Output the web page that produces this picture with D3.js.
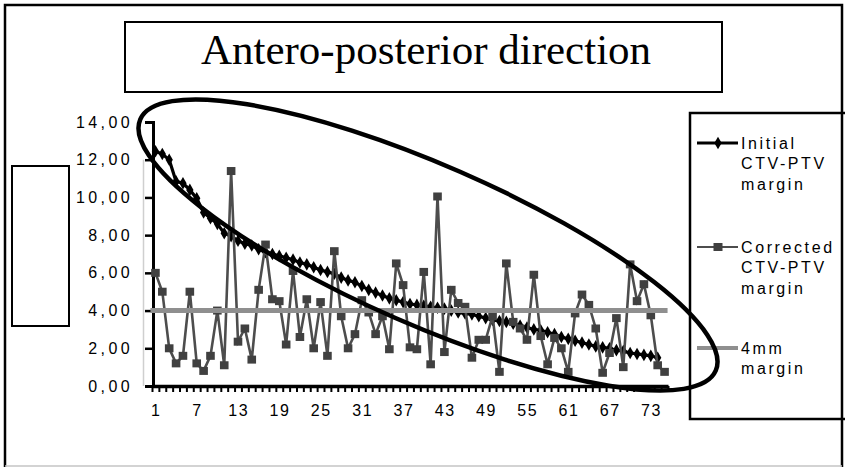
<!DOCTYPE html>
<html>
<head>
<meta charset="utf-8">
<script src="https://cdn.jsdelivr.net/npm/d3@7"></script>
<style>
  html, body { margin: 0; padding: 0; background: #fff; }
  svg { display: block; }
  text { font-family: "Liberation Sans", Arial, sans-serif; fill: #000; }
</style>
</head>
<body>
<svg id="chart" width="845" height="467"></svg>
<script>
// Patient index along the x axis
const categories = d3.range(1, 76).map(String);

// Initial CTV-PTV margin (mm), sorted descending
const initialMargin = [
  12.45, 12.3, 12.0, 10.85, 10.75, 10.4, 9.95, 9.2, 8.9, 8.6,
  8.1, 7.95, 7.7, 7.55, 7.45, 7.25, 7.1, 7.0, 6.9, 6.8,
  6.7, 6.55, 6.45, 6.3, 6.15, 6.05, 5.95, 5.75, 5.6, 5.5,
  5.3, 5.1, 4.95, 4.8, 4.65, 4.55, 4.45, 4.35, 4.3, 4.25,
  4.2, 4.15, 4.1, 4.0, 3.9, 3.85, 3.8, 3.7, 3.6, 3.5,
  3.45, 3.4, 3.3, 3.2, 3.1, 3.0, 2.95, 2.85, 2.75, 2.6,
  2.5, 2.4, 2.3, 2.2, 2.1, 2.05, 2.0, 1.9, 1.85, 1.75,
  1.7, 1.65, 1.6, 1.5
];

// Corrected CTV-PTV margin (mm)
const correctedMargin = [
  6.0, 5.0, 2.0, 1.2, 1.6, 5.0, 1.2, 0.8, 1.6, 4.0,
  1.1, 11.4, 2.35, 3.05, 1.4, 5.1, 7.5, 4.6, 4.5, 2.2,
  6.1, 2.6, 4.6, 2.0, 4.45, 1.6, 7.15, 3.7, 2.0, 2.75,
  4.55, 3.9, 2.75, 3.7, 1.95, 6.5, 5.35, 2.05, 1.95, 6.05,
  1.15, 10.05, 1.8, 5.1, 4.4, 4.2, 1.5, 2.45, 2.45, 3.7,
  0.75, 6.5, 3.4, 3.05, 2.45, 5.9, 2.65, 1.15, 2.55, 2.0,
  0.75, 3.85, 4.85, 4.3, 3.05, 0.7, 1.75, 3.6, 1.0, 6.45,
  4.5, 5.4, 3.75, 1.1, 0.75
];

// Fixed 4 mm reference margin
const fixedMargin = 4;

const xTickLabels = ["1", "7", "13", "19", "25", "31", "37", "43", "49", "55", "61", "67", "73"];
const yTicks = [0, 2, 4, 6, 8, 10, 12, 14];

const legendItems = [
  { key: "initial",   lines: ["Initial", "CTV-PTV", "margin"] },
  { key: "corrected", lines: ["Corrected", "CTV-PTV", "margin"] },
  { key: "fixed",     lines: ["4mm", "margin"] }
];

const svg = d3.select("#chart");

// outer frame
svg.append("rect").attr("x", 0).attr("y", 0).attr("width", 845).attr("height", 467).attr("fill", "#fff");
svg.append("path").attr("d", "M5,467 V5 H842 V467").attr("fill", "none").attr("stroke", "#000").attr("stroke-width", 2.5);
svg.append("line").attr("x1", 5).attr("x2", 842).attr("y1", 466).attr("y2", 466)
  .attr("stroke", "#c4c4c4").attr("stroke-width", 1.5);

// title box
svg.append("rect").attr("x", 125).attr("y", 22).attr("width", 597).attr("height", 70)
  .attr("fill", "#fff").attr("stroke", "#000").attr("stroke-width", 2);
svg.append("text").attr("x", 426).attr("y", 64).attr("text-anchor", "middle")
  .style("font-family", '"Liberation Serif", "Times New Roman", serif')
  .style("font-size", "43px")
  .text("Antero-posterior direction");

// empty y-title box
svg.append("rect").attr("x", 12).attr("y", 166).attr("width", 57).attr("height", 160)
  .attr("fill", "#fff").attr("stroke", "#000").attr("stroke-width", 2);

// scales
const plotL = 152, plotR = 668, plotT = 122, plotB = 386;
const x = d3.scaleBand().domain(categories).range([plotL, plotR]).padding(0);
const cx = d => x(d) + x.bandwidth() / 2;
const y = d3.scaleLinear().domain([0, 14]).range([plotB, plotT]);
const xEdge = d3.scaleLinear().domain([0, categories.length]).range([plotL, plotR]);

// faint plot-area edge
svg.append("line").attr("x1", 143.5).attr("x2", 143.5).attr("y1", y(12)).attr("y2", plotB)
  .attr("stroke", "#cfcfcf").attr("stroke-width", 1.5);

// y axis
const fmt = v => d3.format(".2f")(v).replace(".", ",");
const yAxis = svg.append("g").attr("transform", `translate(${plotL + 1},0)`)
  .call(d3.axisLeft(y).tickValues(yTicks).tickFormat(fmt).tickSize(8).tickPadding(12));
yAxis.select(".domain").attr("stroke", "#000").attr("stroke-width", 3);
yAxis.selectAll(".tick line").attr("stroke", "#000").attr("stroke-width", 2.5);
yAxis.selectAll(".tick text").style("font-size", "16px").style("letter-spacing", "3.4px")
  .attr("fill", "#000");

// x axis: category boundary ticks
const xTicks = svg.append("g").attr("transform", `translate(0,${plotB})`)
  .call(d3.axisBottom(xEdge).tickValues(d3.range(0, categories.length + 1)).tickFormat("").tickSize(6));
xTicks.select(".domain").remove();
xTicks.selectAll(".tick line").attr("stroke", "#000").attr("stroke-width", 2);

// x axis labels
const xAxis = svg.append("g").attr("transform", `translate(0,${plotB})`)
  .call(d3.axisBottom(x).tickValues(xTickLabels).tickSize(0).tickPadding(19));
xAxis.select(".domain").attr("stroke", "#000").attr("stroke-width", 3.5);
xAxis.selectAll(".tick text").style("font-size", "16px").style("letter-spacing", "1.6px")
  .attr("fill", "#000").attr("dx", "0.8px");

// initial margin series
const initPts = initialMargin.map((v, i) => [cx(categories[i]), y(v)]);
svg.append("path").attr("d", d3.line()(initPts)).attr("fill", "none")
  .attr("stroke", "#000").attr("stroke-width", 3.2);
svg.append("g").selectAll("path").data(initPts).join("path")
  .attr("transform", d => `translate(${d[0]},${d[1]})`)
  .attr("d", d3.symbol(d3.symbolDiamond, 46)).attr("fill", "#000");

// corrected margin series
const corrPts = correctedMargin.map((v, i) => [cx(categories[i]), y(v)]);
svg.append("path").attr("d", d3.line()(corrPts)).attr("fill", "none")
  .attr("stroke", "#4d4d4d").attr("stroke-width", 2.6);
svg.append("g").selectAll("rect").data(corrPts).join("rect")
  .attr("x", d => d[0] - 4.3).attr("y", d => d[1] - 4)
  .attr("width", 8.6).attr("height", 8)
  .attr("fill", "#404040");

// fixed 4 mm line
svg.append("line")
  .attr("x1", cx(categories[0]) - 5).attr("x2", cx(categories[categories.length - 1]) + 3)
  .attr("y1", y(fixedMargin)).attr("y2", y(fixedMargin))
  .attr("stroke", "#8f8f8f").attr("stroke-width", 5);

// legend
svg.append("rect").attr("x", 690).attr("y", 113).attr("width", 170).attr("height", 306)
  .attr("fill", "none").attr("stroke", "#000").attr("stroke-width", 2.5);
const legendY = [143, 247, 348];
const lg = svg.append("g");
legendItems.forEach((it, k) => {
  const ly = legendY[k];
  if (it.key === "initial") {
    lg.append("line").attr("x1", 697).attr("x2", 738).attr("y1", ly).attr("y2", ly)
      .attr("stroke", "#000").attr("stroke-width", 3);
    lg.append("path").attr("transform", `translate(718,${ly})`)
      .attr("d", d3.symbol(d3.symbolDiamond, 46)).attr("fill", "#000");
  } else if (it.key === "corrected") {
    lg.append("line").attr("x1", 697).attr("x2", 738).attr("y1", ly).attr("y2", ly)
      .attr("stroke", "#4d4d4d").attr("stroke-width", 2.2);
    lg.append("rect").attr("x", 713.5).attr("y", ly - 4).attr("width", 9).attr("height", 8)
      .attr("fill", "#404040");
  } else {
    lg.append("line").attr("x1", 697).attr("x2", 738).attr("y1", ly).attr("y2", ly)
      .attr("stroke", "#8f8f8f").attr("stroke-width", 4);
  }
  it.lines.forEach((t, j) => {
    lg.append("text").attr("x", 741).attr("y", ly + j * 20.5).attr("dy", "0.35em")
      .style("font-size", "16px").style("letter-spacing", "2.6px").text(t);
  });
});

// highlight ellipse around the initial-margin trend
svg.append("ellipse").attr("cx", 428).attr("cy", 245).attr("rx", 314).attr("ry", 80)
  .attr("transform", "rotate(23.6,428,245)")
  .attr("fill", "none").attr("stroke", "#000").attr("stroke-width", 4.5);
</script>
</body>
</html>
